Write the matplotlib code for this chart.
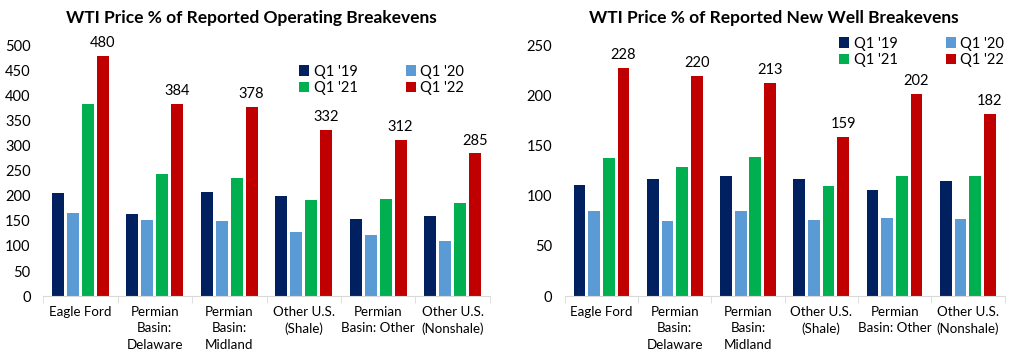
import numpy as np
import matplotlib.pyplot as plt

plt.rcParams['font.family'] = ['Lato', 'DejaVu Sans']

regions = ['Eagle Ford', 'Permian\nBasin:\nDelaware', 'Permian\nBasin:\nMidland',
           'Other U.S.\n(Shale)', 'Permian\nBasin: Other', 'Other U.S.\n(Nonshale)']
quarters = ["Q1 '19", "Q1 '20", "Q1 '21", "Q1 '22"]
colors = ['#002060', '#5B9BD5', '#00B050', '#C00000']

# Operating breakevens
op_q19 = [206, 164, 208, 200, 154, 160]
op_q20 = [166, 152, 150, 128, 122, 110]
op_q21 = [384, 244, 236, 192, 194, 186]
op_q22 = [480, 384, 378, 332, 312, 285]

# New well breakevens
nw_q19 = [111, 117, 120, 117, 106, 115]
nw_q20 = [85, 75, 85, 76, 78, 77]
nw_q21 = [138, 129, 139, 110, 120, 120]
nw_q22 = [228, 220, 213, 159, 202, 182]

fig = plt.figure(figsize=(10.25, 3.61), dpi=100)
ax1 = fig.add_axes([0.042, 0.180, 0.436, 0.693])
ax2 = fig.add_axes([0.551, 0.180, 0.429, 0.693])


def draw(ax, series, ymax, step, legend_pos):
    x = np.arange(len(regions))
    bars = []
    for i, vals in enumerate(series):
        bars.append(ax.bar(x + (i - 1.5) * 0.2, vals, width=0.16, color=colors[i],
                           label=quarters[i]))
    # labels on Q1 '22 bars
    for xi, v in zip(x, series[3]):
        ax.text(xi + 0.3, v + ymax * 0.022, str(v), ha='center', va='bottom',
                fontsize=10.5, clip_on=False)
    ax.set_xlim(-0.5, len(regions) - 0.5)
    ax.set_ylim(0, ymax)
    ax.set_yticks(np.arange(0, ymax + 1, step))
    ax.set_xticks(x)
    ax.set_xticklabels(regions, fontsize=9.6, linespacing=1.45)
    ax.tick_params(axis='x', length=0, pad=7)
    ax.tick_params(axis='y', length=0, labelsize=10.5, pad=9)
    # category separator ticks
    ax.set_xticks(np.arange(-0.5, len(regions)), minor=True)
    ax.tick_params(axis='x', which='minor', length=5, color='#D9D9D9')
    for s in ['top', 'right', 'left']:
        ax.spines[s].set_visible(False)
    ax.spines['bottom'].set_color('#D9D9D9')
    # row order: '19 '20 / '21 '22
    order = [0, 2, 1, 3]
    ax.legend([bars[i] for i in order], [quarters[i] for i in order], ncol=2,
              loc='upper left', bbox_to_anchor=legend_pos, frameon=False,
              fontsize=10.5, handlelength=0.7, handleheight=0.7, handletextpad=0.3,
              columnspacing=3.3, labelspacing=0.15, borderpad=0, borderaxespad=0)


draw(ax1, [op_q19, op_q20, op_q21, op_q22], 500, 50, (0.573, 0.925))
draw(ax2, [nw_q19, nw_q20, nw_q21, nw_q22], 250, 50, (0.624, 1.037))

fig.text(0.2455, 0.95, 'WTI Price % of Reported Operating Breakevens',
         ha='center', va='center', fontsize=12.5, fontweight='bold')
fig.text(0.755, 0.95, 'WTI Price % of Reported New Well Breakevens',
         ha='center', va='center', fontsize=12.5, fontweight='bold')

fig.savefig('out.png', dpi=100)
